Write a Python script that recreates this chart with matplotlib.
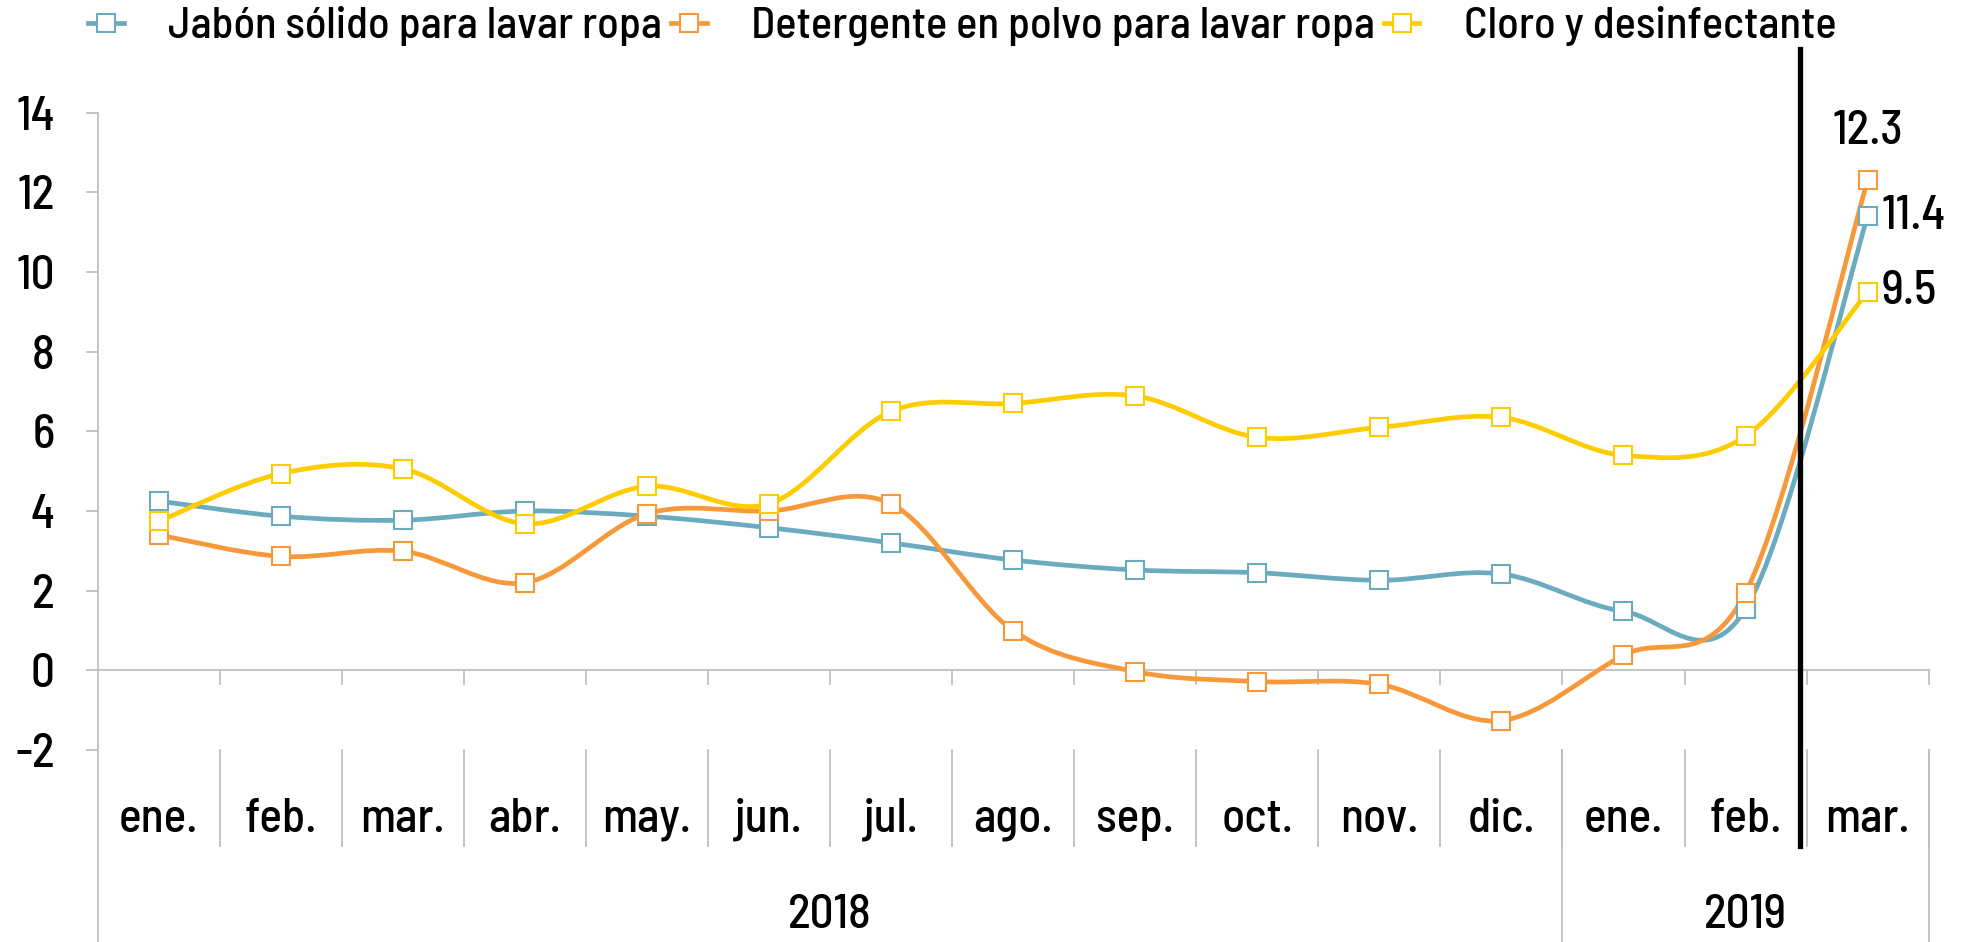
import matplotlib
matplotlib.use("Agg")
import matplotlib.pyplot as plt
import numpy as np
from matplotlib.path import Path
from matplotlib.patches import PathPatch
from matplotlib.lines import Line2D

plt.rcParams['font.family'] = ['Barlow Semi Condensed', 'DejaVu Sans']
plt.rcParams['font.weight'] = 500

# datos
meses = ['ene.', 'feb.', 'mar.', 'abr.', 'may.', 'jun.', 'jul.', 'ago.', 'sep.',
         'oct.', 'nov.', 'dic.', 'ene.', 'feb.', 'mar.']
anios = ['2018', '2019']
meses_por_anio = [12, 3]

jabon = [4.25, 3.87, 3.77, 4.0, 3.87, 3.58, 3.2, 2.77, 2.52, 2.45, 2.26, 2.42, 1.48, 1.54, 11.4]
detergente = [3.4, 2.86, 2.99, 2.2, 3.93, 4.0, 4.18, 1.0, -0.03, -0.28, -0.35, -1.26, 0.38, 1.95, 12.3]
cloro = [3.74, 4.94, 5.06, 3.68, 4.62, 4.18, 6.5, 6.7, 6.89, 5.85, 6.1, 6.35, 5.4, 5.88, 9.5]

series = [
    ('Jabón sólido para lavar ropa', jabon, '#6AABBF'),
    ('Detergente en polvo para lavar ropa', detergente, '#F7993A'),
    ('Cloro y desinfectante', cloro, '#FFCC00'),
]

GRIS = '#BFBFBF'
FS = 34
x = np.arange(len(meses))


def curva_suave(xs, ys):
    # bezier estilo excel (catmull-rom)
    pts = np.column_stack([xs, ys]).astype(float)
    n = len(pts)
    verts = [pts[0]]
    codes = [Path.MOVETO]
    for i in range(n - 1):
        p0 = pts[i - 1] if i > 0 else pts[i]
        p1 = pts[i]
        p2 = pts[i + 1]
        p3 = pts[i + 2] if i + 2 < n else pts[i + 1]
        c1 = p1 + (p2 - p0) / 6.0
        c2 = p2 - (p3 - p1) / 6.0
        verts += [c1, c2, p2]
        codes += [Path.CURVE4] * 3
    return Path(verts, codes)


fig = plt.figure(figsize=(19.64, 9.42), dpi=100)
ax = fig.add_axes([0.0497, 0.2038, 0.9323, 0.6766])
ax.set_xlim(-0.5, len(meses) - 0.5)
ax.set_ylim(-2, 14)

for nombre, vals, color in series:
    ax.add_patch(PathPatch(curva_suave(x, vals), fill=False, edgecolor=color,
                           linewidth=3.4, zorder=3, capstyle='round'))
    ax.plot(x, vals, linestyle='none', marker='s', markersize=13.5,
            markerfacecolor='white', markeredgecolor=color, markeredgewidth=1.5,
            zorder=4)

# ejes
for s in ax.spines.values():
    s.set_visible(False)
ax.set_yticks(np.arange(-2, 15, 2))
ax.set_yticklabels([str(v) for v in range(-2, 15, 2)])
ax.tick_params(axis='y', length=9, width=1.3, color=GRIS, labelsize=FS, pad=22)
ax.set_xticks([])

ax.plot([-0.5, -0.5], [14, -8], color=GRIS, lw=1.3, clip_on=False, zorder=1)
ax.axhline(0, color=GRIS, lw=1.3, zorder=1)
bordes = np.arange(0.5, len(meses) + 0.5, 1.0)
for b in bordes:
    ax.plot([b, b], [0, -0.35], color=GRIS, lw=1.3, clip_on=False)
    ax.plot([b, b], [-2, -4.4], color=GRIS, lw=1.3, clip_on=False)

for xi, m in zip(x, meses):
    ax.text(xi, -3.75, m, ha='center', va='center', fontsize=FS, clip_on=False)

inicio = 0
for anio, k in zip(anios, meses_por_anio):
    fin = inicio + k
    ax.plot([fin - 0.5, fin - 0.5], [-2, -8], color=GRIS, lw=1.3, clip_on=False)
    ax.text((inicio + fin - 1) / 2, -6.15, anio, ha='center', va='center',
            fontsize=FS, clip_on=False)
    inicio = fin

# linea vertical
ax.plot([13.45, 13.45], [15.6, -4.4], color='black', lw=3.8, clip_on=False, zorder=5)

# etiquetas de datos
ax.annotate(f'{detergente[-1]:.1f}', (x[-1], detergente[-1]), xytext=(0, 35),
            textcoords='offset points', ha='center', va='center', fontsize=FS)
ax.annotate(f'{jabon[-1]:.1f}', (x[-1], jabon[-1]), xytext=(10, 0),
            textcoords='offset points', ha='left', va='center', fontsize=FS)
ax.annotate(f'{cloro[-1]:.1f}', (x[-1], cloro[-1]), xytext=(10, 0),
            textcoords='offset points', ha='left', va='center', fontsize=FS)

handles = [Line2D([], [], color=c, lw=3.4, marker='s', markersize=13.5,
                  markerfacecolor='white', markeredgecolor=c, markeredgewidth=1.5)
           for _, _, c in series]
fig.legend(handles, [s[0] for s in series], loc='center', ncol=3,
           bbox_to_anchor=(0.49, 0.972), frameon=False, fontsize=32,
           handlelength=0.8, handletextpad=1.0, columnspacing=0.2,
           borderaxespad=0)

fig.savefig('out.png', dpi=100)
